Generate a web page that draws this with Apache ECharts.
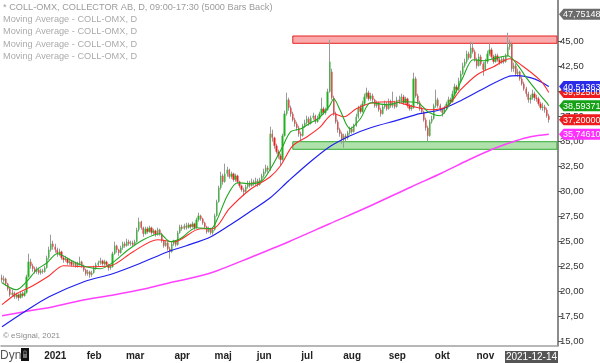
<!DOCTYPE html>
<html><head><meta charset="utf-8">
<script src="https://cdn.jsdelivr.net/npm/echarts@6/dist/echarts.min.js"></script>
<style>html,body{margin:0;padding:0;background:#fff}#c{width:600px;height:363px}</style>
</head><body><div id="c"></div>
<script>
// ---------- data ----------
const startDate = '2020-11-23';
const holidays = ['2020-12-24','2020-12-25','2020-12-31','2021-01-01','2021-01-06','2021-04-02','2021-04-05','2021-05-13','2021-06-25','2021-12-24'];
const barCount = 268;
const padBars = 4;
const monthLabels = ['2021','feb','mar','apr','maj','jun','jul','aug','sep','okt','nov',''];
const yTicks = [15,17.5,20,22.5,25,27.5,30,32.5,35,37.5,40,42.5,45];
const headerLines = ['* COLL-OMX, COLLECTOR AB, D, 09:00-17:30 (5000 Bars Back)','Moving Average - COLL-OMX, D','Moving Average - COLL-OMX, D','Moving Average - COLL-OMX, D','Moving Average - COLL-OMX, D'];
const lastDateLabel = '2021-12-14';
const bandStart = 142;
const resistanceBand = [44.84, 45.57];
const supportBand = [34.24, 35.0];
// [open, close, low, high]
const candles = [
[21.4,21.2,20.9,21.7],[21.1,21.3,20.9,21.6],[21.3,20.8,20.6,21.4],[20.8,20.3,20.1,20.9],[20.3,19.7,19.5,20.4],[19.7,19.9,19.5,20.2],
[19.9,19.5,19.3,20.0],[19.5,19.7,19.3,19.9],[19.7,19.4,19.1,19.8],[19.4,19.8,19.3,20.0],[19.8,19.6,19.4,20.0],[19.6,19.9,19.5,20.1],
[19.9,21.5,19.8,21.7],[21.5,23.0,21.4,23.8],[23.0,22.6,22.3,23.3],[22.6,22.3,22.0,22.8],[22.3,22.0,21.8,22.5],[22.0,22.2,21.8,22.5],
[22.2,21.9,21.7,22.4],[21.9,22.1,21.7,22.3],[22.1,22.0,21.8,22.3],[22.0,22.4,21.9,22.6],[22.4,23.4,22.3,23.6],[23.4,24.2,23.2,24.5],
[24.2,24.8,24.0,25.7],[24.8,24.5,24.2,25.1],[24.5,24.2,23.9,24.8],[24.2,23.8,23.5,24.4],[23.8,24.0,23.6,24.3],[24.0,23.4,23.2,24.1],
[23.4,23.2,22.9,23.6],[23.2,23.3,23.0,23.6],[23.3,22.9,22.7,23.4],[22.9,23.0,22.7,23.3],[23.0,22.7,22.5,23.1],[22.7,22.9,22.5,23.1],
[22.9,22.6,22.4,23.0],[22.6,22.8,22.4,23.0],[22.8,23.0,22.6,23.5],[23.0,22.6,22.4,23.1],[22.6,22.2,22.0,22.7],[22.2,21.8,21.6,22.3],
[21.8,22.0,21.6,22.2],[22.0,21.7,21.4,22.1],[21.7,21.9,21.5,22.1],[21.9,22.4,21.8,22.6],[22.4,22.7,22.2,22.9],[22.7,22.9,22.5,23.1],
[22.9,23.1,22.7,23.4],[23.1,22.8,22.6,23.2],[22.8,23.0,22.6,23.2],[23.0,22.7,22.5,23.1],[22.7,22.4,22.1,22.8],[22.4,22.5,22.2,22.7],
[22.5,23.8,22.4,24.0],[23.8,24.6,23.7,25.0],[24.6,24.2,23.9,24.7],[24.2,23.9,23.6,24.3],[23.9,24.4,23.8,24.6],[24.4,24.8,24.2,25.0],
[24.8,24.6,24.4,25.0],[24.6,25.0,24.5,25.3],[25.0,24.8,24.6,25.2],[24.8,24.9,24.6,25.1],[24.9,24.7,24.5,25.1],[24.7,25.0,24.6,25.2],
[25.0,26.2,24.9,26.4],[26.2,27.0,26.0,27.4],[27.0,26.4,26.2,27.1],[26.4,25.8,25.5,26.5],[25.8,26.3,25.7,26.5],[26.3,26.0,25.8,26.5],
[26.0,26.4,25.9,26.6],[26.4,25.9,25.7,26.5],[25.9,26.1,25.7,26.3],[26.1,25.7,25.5,26.2],[25.7,26.2,25.6,26.4],[26.2,25.8,25.6,26.3],
[25.8,25.1,24.9,25.9],[25.1,24.6,24.4,25.2],[24.6,24.9,24.5,25.1],[24.9,24.3,24.1,25.0],[24.3,24.0,23.3,24.5],[24.0,24.8,23.9,25.0],
[24.8,25.0,24.6,25.2],[25.0,24.7,24.5,25.1],[24.7,25.9,24.6,26.1],[25.9,26.5,25.8,26.7],[26.5,26.3,26.1,26.7],[26.3,26.6,26.2,26.8],
[26.6,26.4,26.2,26.9],[26.4,26.7,26.3,26.9],[26.7,26.5,26.3,26.8],[26.5,26.8,26.4,27.0],[26.8,26.4,26.2,26.9],[26.4,27.2,26.3,27.4],
[27.2,27.6,27.0,27.9],[27.6,27.3,27.1,27.7],[27.3,26.9,26.7,27.4],[26.9,26.5,26.3,27.0],[26.5,26.0,25.8,26.6],[26.0,26.3,25.9,26.5],
[26.3,25.9,25.7,26.4],[25.9,26.2,25.7,26.4],[26.2,27.6,26.1,27.8],[27.6,29.0,27.5,29.2],[29.0,30.4,28.9,30.6],[30.4,31.6,30.2,32.0],
[31.6,31.0,30.7,31.8],[31.0,31.8,30.9,32.8],[31.8,32.2,31.5,32.5],[32.2,31.5,31.3,32.3],[31.5,31.8,31.3,32.0],[31.8,31.2,31.0,31.9],
[31.2,31.6,31.0,31.8],[31.6,31.0,30.8,31.7],[31.0,30.6,30.4,31.1],[30.6,30.2,30.0,30.7],[30.2,30.0,29.6,30.4],[30.0,30.5,29.9,30.7],
[30.5,30.9,30.3,31.1],[30.9,30.6,30.4,31.1],[30.6,31.0,30.5,31.3],[31.0,30.8,30.6,31.2],[30.8,31.1,30.6,31.4],[31.1,30.7,30.5,31.3],
[30.7,31.2,30.6,31.4],[31.2,31.6,31.0,31.8],[31.6,32.0,31.4,32.3],[32.0,32.4,31.8,32.7],[32.4,32.2,31.9,32.6],[32.2,35.8,32.1,36.5],
[35.8,35.4,35.0,36.2],[35.4,34.6,34.3,35.5],[34.6,34.0,33.8,34.8],[34.0,33.6,33.3,34.2],[33.6,33.2,32.6,33.8],[33.2,35.6,33.1,35.8],
[35.6,37.8,35.5,38.1],[37.8,39.2,37.6,39.9],[39.2,38.4,38.1,39.4],[38.4,37.8,37.5,38.6],[37.8,37.2,37.0,38.0],[37.2,36.8,36.5,37.4],
[36.8,36.4,36.1,37.0],[36.4,35.8,35.5,36.6],[35.8,35.6,35.0,36.0],[35.6,36.6,35.5,36.8],[36.6,36.9,36.4,37.2],[36.9,37.3,36.7,37.6],
[37.3,36.8,36.6,37.5],[36.8,37.4,36.7,37.6],[37.4,37.6,37.2,37.9],[37.6,37.0,36.8,37.7],[37.0,37.3,36.9,37.6],[37.3,37.8,37.2,38.0],
[37.8,38.3,37.6,39.4],[38.3,37.9,37.7,38.5],[37.9,38.2,37.7,38.4],[38.2,40.0,38.1,40.3],[40.0,43.0,39.9,45.2],[42.0,39.4,39.2,42.3],
[39.4,37.8,37.6,39.6],[37.8,37.0,36.8,38.0],[37.0,36.2,35.9,37.2],[36.2,35.8,35.5,36.4],[35.8,35.2,34.8,36.0],[35.2,35.6,34.4,35.8],
[35.6,35.4,35.0,35.8],[35.4,35.9,35.2,36.1],[35.9,36.3,35.7,36.5],[36.3,36.0,35.8,36.5],[36.0,36.6,35.9,36.8],[36.6,37.5,36.5,37.8],
[37.5,38.4,37.3,38.6],[38.4,38.0,37.8,38.7],[38.0,38.8,37.9,39.1],[38.8,39.5,38.6,39.8],[39.5,39.9,39.3,40.4],[39.9,39.3,39.1,40.1],
[39.3,39.6,39.1,39.9],[39.6,39.2,38.9,39.8],[39.2,38.6,38.4,39.3],[38.6,38.9,38.4,39.1],[38.9,38.2,38.0,39.0],[38.2,37.8,37.5,38.4],
[37.8,38.5,37.7,38.7],[38.5,38.8,38.3,39.1],[38.8,38.3,38.1,39.0],[38.3,39.0,38.2,39.3],[39.0,38.6,38.4,39.2],[38.6,38.9,38.4,40.0],
[38.9,38.5,38.3,39.1],[38.5,39.2,38.4,39.5],[39.2,39.0,38.8,39.6],[39.0,39.5,38.9,39.8],[39.5,38.9,38.7,39.7],[38.9,39.3,38.8,39.5],
[39.3,38.6,38.4,39.4],[38.6,38.3,38.1,38.8],[38.3,38.4,38.1,38.7],[38.4,41.3,38.3,41.9],[41.3,39.6,39.4,41.5],[39.6,38.9,38.7,39.8],
[38.9,38.3,38.1,39.1],[38.3,38.0,37.8,38.5],[38.0,37.2,37.0,38.1],[37.2,36.4,36.1,37.4],[36.4,35.6,35.0,36.6],[35.6,37.0,35.5,37.2],
[37.0,37.3,36.8,37.6],[37.3,38.6,37.2,38.8],[38.6,39.2,38.4,40.2],[39.2,38.6,38.4,39.4],[38.6,38.2,38.0,38.8],[38.2,37.9,37.5,38.4],
[37.9,38.4,37.8,38.6],[38.4,38.8,38.2,39.0],[38.8,39.2,38.6,39.5],[39.2,39.0,38.8,39.4],[39.0,39.8,38.9,40.1],[39.8,40.5,39.6,40.8],
[40.5,40.2,39.9,40.7],[40.2,41.1,40.1,41.4],[41.1,41.8,40.9,42.1],[41.8,42.6,41.7,42.9],[42.6,43.0,42.4,43.3],[43.0,43.8,42.8,44.1],
[43.8,43.4,43.2,44.0],[43.4,44.4,43.3,45.0],[44.4,44.0,43.8,44.9],[44.0,43.2,43.0,44.2],[43.2,42.6,42.3,43.4],[42.6,43.5,42.5,43.8],
[43.5,42.8,42.6,43.7],[42.8,42.2,41.6,43.0],[42.2,43.0,42.1,43.3],[43.0,43.8,42.8,44.1],[43.8,44.2,43.6,44.9],[44.2,43.5,43.3,44.4],
[43.5,43.0,42.8,43.7],[43.0,43.6,42.9,43.8],[43.6,43.2,43.0,43.8],[43.2,42.9,42.7,43.4],[42.9,43.3,42.8,43.5],[43.3,43.0,42.8,43.5],
[43.0,43.6,42.9,43.8],[43.6,44.5,43.5,45.9],[44.5,44.8,44.2,45.2],[44.8,42.3,42.0,45.0],[42.3,42.6,42.0,42.9],[42.6,41.8,41.6,42.8],
[41.8,42.0,41.5,42.3],[42.0,41.3,41.1,42.1],[41.3,40.8,40.6,41.5],[40.8,40.3,40.1,41.0],[40.3,39.8,39.5,40.5],[39.8,39.2,38.9,40.0],
[39.2,39.4,38.8,39.7],[39.4,39.8,39.2,40.2],[39.8,39.4,39.1,40.0],[39.4,39.3,39.0,39.7],[39.3,38.8,38.6,39.5],[38.8,38.4,38.2,39.0],
[38.4,38.5,38.1,38.9],[38.5,38.2,37.9,38.7],[38.2,37.6,37.4,38.4],[37.6,37.2,36.9,37.8]
];
// moving averages: [bar index, value]
const ma10 = [[0,20.9],[7,20.2],[12,21.0],[17,22.2],[22,22.9],[27,23.8],[35,23.0],[41,22.5],[48,22.3],[54,22.9],[61,24.1],[69,25.2],[77,25.8],[82,25.0],[87,25.3],[95,26.4],[102,26.3],[105,27.2],[110,29.6],[115,30.9],[121,30.8],[127,31.1],[132,32.6],[137,34.5],[141,36.0],[146,36.3],[150,36.8],[155,37.4],[160,38.6],[162,39.3],[165,38.2],[170,36.3],[175,37.3],[180,38.9],[188,38.7],[196,39.0],[203,38.9],[208,38.0],[214,37.6],[220,39.3],[225,41.4],[230,43.2],[235,43.1],[240,43.3],[247,43.6],[252,42.6],[256,41.4],[261,40.1],[266,38.9],[267,38.59]];
const ma20 = [[0,18.7],[7,19.8],[15,20.6],[23,21.6],[30,22.6],[41,22.5],[53,22.6],[64,24.0],[76,25.2],[84,25.0],[97,26.3],[103,26.3],[111,28.3],[121,30.2],[131,31.5],[136,32.6],[142,34.6],[149,35.5],[155,36.4],[162,37.8],[167,37.5],[173,38.3],[181,38.9],[191,39.0],[201,38.5],[209,38.2],[217,38.5],[224,40.2],[232,41.7],[240,42.5],[248,43.3],[254,42.6],[263,41.1],[267,39.925]];
const ma50 = [[0,16.5],[11,18.0],[23,19.5],[40,21.0],[54,21.8],[67,22.8],[81,24.0],[90,24.6],[102,25.5],[113,26.9],[121,28.0],[131,29.4],[140,31.1],[150,32.9],[160,34.5],[170,35.6],[180,36.4],[194,37.2],[204,37.8],[214,38.2],[224,39.1],[235,40.3],[247,41.5],[252,41.6],[258,41.4],[263,41.0],[267,40.51]];
const ma200 = [[0,17.6],[11,18.0],[25,18.5],[38,19.1],[55,19.7],[70,20.3],[80,20.8],[95,21.5],[105,22.1],[121,23.4],[140,25.0],[160,26.8],[180,28.6],[200,30.5],[215,31.9],[228,33.2],[240,34.3],[251,35.1],[258,35.5],[267,35.75]];
const priceTags = [
  {v:47.75148, t:'47,75148', c:'#6b6b6b'},
  {v:39.9250, t:'39,92500', c:'#ee1c1c'},
  {v:40.51363, t:'40,51363', c:'#2a2ae8'},
  {v:38.59371, t:'38,59371', c:'#16a016'},
  {v:37.20000, t:'37,20000', c:'#ee1c1c'},
  {v:35.74610, t:'35,74610', c:'#ff30ff'}
];

// ---------- build categories ----------
const dates = [];
{
  let d = new Date(startDate + 'T00:00:00Z');
  while (dates.length < barCount + padBars) {
    const wd = d.getUTCDay();
    const s = d.toISOString().slice(0, 10);
    if (wd !== 0 && wd !== 6 && holidays.indexOf(s) < 0) dates.push(s);
    d.setUTCDate(d.getUTCDate() + 1);
  }
}
const monthStarts = new Set();
for (let i = 1; i < barCount; i++) {
  if (dates[i] >= '2021-01-01' && dates[i].slice(5, 7) !== dates[i - 1].slice(5, 7)) monthStarts.add(i);
}
const bodies = candles.map(r => [r[0], r[1], Math.min(r[0], r[1]), Math.max(r[0], r[1])]);
const FF = 'Liberation Sans, Arial, sans-serif';

const chart = echarts.init(document.getElementById('c'), null, {renderer: 'canvas'});
chart.setOption({
  animation: false,
  backgroundColor: '#fff',
  grid: {left: 1, right: 42, top: 0, bottom: 17.3},
  xAxis: {
    type: 'category', data: dates, boundaryGap: true,
    axisLine: {lineStyle: {color: '#a0a0a0', width: 1.5}},
    axisTick: {alignWithLabel: true, interval: (i) => monthStarts.has(i), length: 3, lineStyle: {color: '#777'}},
    axisLabel: {interval: (i) => monthStarts.has(i), formatter: (v) => monthLabels[+v.slice(5, 7) - 1],
      fontWeight: 'bold', fontSize: 10, color: '#222', margin: 6, fontFamily: FF},
    splitLine: {show: false}
  },
  yAxis: {
    type: 'value', position: 'right', min: 14.6, max: 49.17,
    axisLine: {show: true, lineStyle: {color: '#666', width: 1.5}},
    axisTick: {show: true, length: 4, lineStyle: {color: '#555'}, customValues: yTicks},
    axisLabel: {customValues: yTicks, formatter: (v) => v.toFixed(2).replace('.', ','), color: '#333', fontSize: 9.5, margin: 2, fontFamily: FF},
    splitLine: {show: false}
  },
  series: [
    {
      type: 'candlestick', data: candles, barWidth: 1.2,
      itemStyle: {color: '#9a9a9a', color0: '#9a9a9a', borderColor: '#9a9a9a', borderColor0: '#9a9a9a', borderWidth: 1},
      markArea: {
        silent: true,
        data: [
          [{xAxis: dates[bandStart], yAxis: resistanceBand[1], itemStyle: {color: 'rgba(245,100,100,0.55)', borderColor: '#e52222', borderWidth: 1}},
           {xAxis: dates[barCount + padBars - 1], yAxis: resistanceBand[0]}],
          [{xAxis: dates[bandStart], yAxis: supportBand[1], itemStyle: {color: 'rgba(110,200,100,0.55)', borderColor: '#33a833', borderWidth: 1}},
           {xAxis: dates[barCount + padBars - 1], yAxis: supportBand[0]}]
        ]
      }
    },
    {
      type: 'candlestick', data: bodies, barWidth: 1.8,
      itemStyle: {color: '#22b022', color0: '#e82222', borderColor: '#22b022', borderColor0: '#e82222', borderWidth: 0}
    },
    {type: 'line', data: ma200, symbol: 'none', smooth: 0.3, lineStyle: {color: '#ff40ff', width: 1.5}},
    {type: 'line', data: ma50, symbol: 'none', smooth: 0.3, lineStyle: {color: '#2020f0', width: 1.2}},
    {type: 'line', data: ma20, symbol: 'none', smooth: 0.3, lineStyle: {color: '#ff2a2a', width: 1.1}},
    {type: 'line', data: ma10, symbol: 'none', smooth: 0.3, lineStyle: {color: '#20a820', width: 1.1}}
  ]
});

// ---------- overlays: header text, tags, footer ----------
const g = [];
headerLines.forEach((t, i) => {
  g.push({type: 'text', left: 3, top: 3 + i * 12.2, silent: true,
    style: {text: t, fill: i === 0 ? '#9c9c9c' : '#ababab', fontSize: 9.2, fontFamily: FF}});
});
g.push({type: 'text', left: 3, top: 332, silent: true, style: {text: '© eSignal, 2021', fill: '#8a8a8a', fontSize: 8, fontFamily: FF}});
g.push({type: 'text', left: 0, top: 350, silent: true, style: {text: 'Dyn', fill: '#555', fontSize: 12, fontFamily: FF}});
g.push({type: 'rect', shape: {x: 21, y: 348, width: 8, height: 13}, silent: true, style: {fill: '#111'}});
g.push({type: 'rect', shape: {x: 23, y: 354, width: 4, height: 4}, silent: true, style: {fill: '#777'}});
g.push({type: 'rect', shape: {x: 23.8, y: 351, width: 2.4, height: 3.5}, silent: true, style: {fill: 'none', stroke: '#777', lineWidth: 1}});
g.push({type: 'rect', shape: {x: 505, y: 351, width: 53, height: 12}, silent: true, style: {fill: '#555'}});
g.push({type: 'text', x: 531.5, y: 357.5, silent: true, style: {text: lastDateLabel, fill: '#fff', fontSize: 10, fontFamily: FF, align: 'center', verticalAlign: 'middle'}});
priceTags.forEach((p) => {
  const y = chart.convertToPixel({yAxisIndex: 0}, p.v);
  g.push({type: 'polygon', silent: true, z: 100, shape: {points: [[559, y], [563.5, y - 5.5], [600, y - 5.5], [600, y + 5.5], [563.5, y + 5.5]]}, style: {fill: p.c}});
  g.push({type: 'text', silent: true, z: 101, x: 563, y: y + 0.5, style: {text: p.t, fill: '#fff', fontSize: 9, fontFamily: FF, verticalAlign: 'middle'}});
});
chart.setOption({graphic: g});
</script></body></html>
